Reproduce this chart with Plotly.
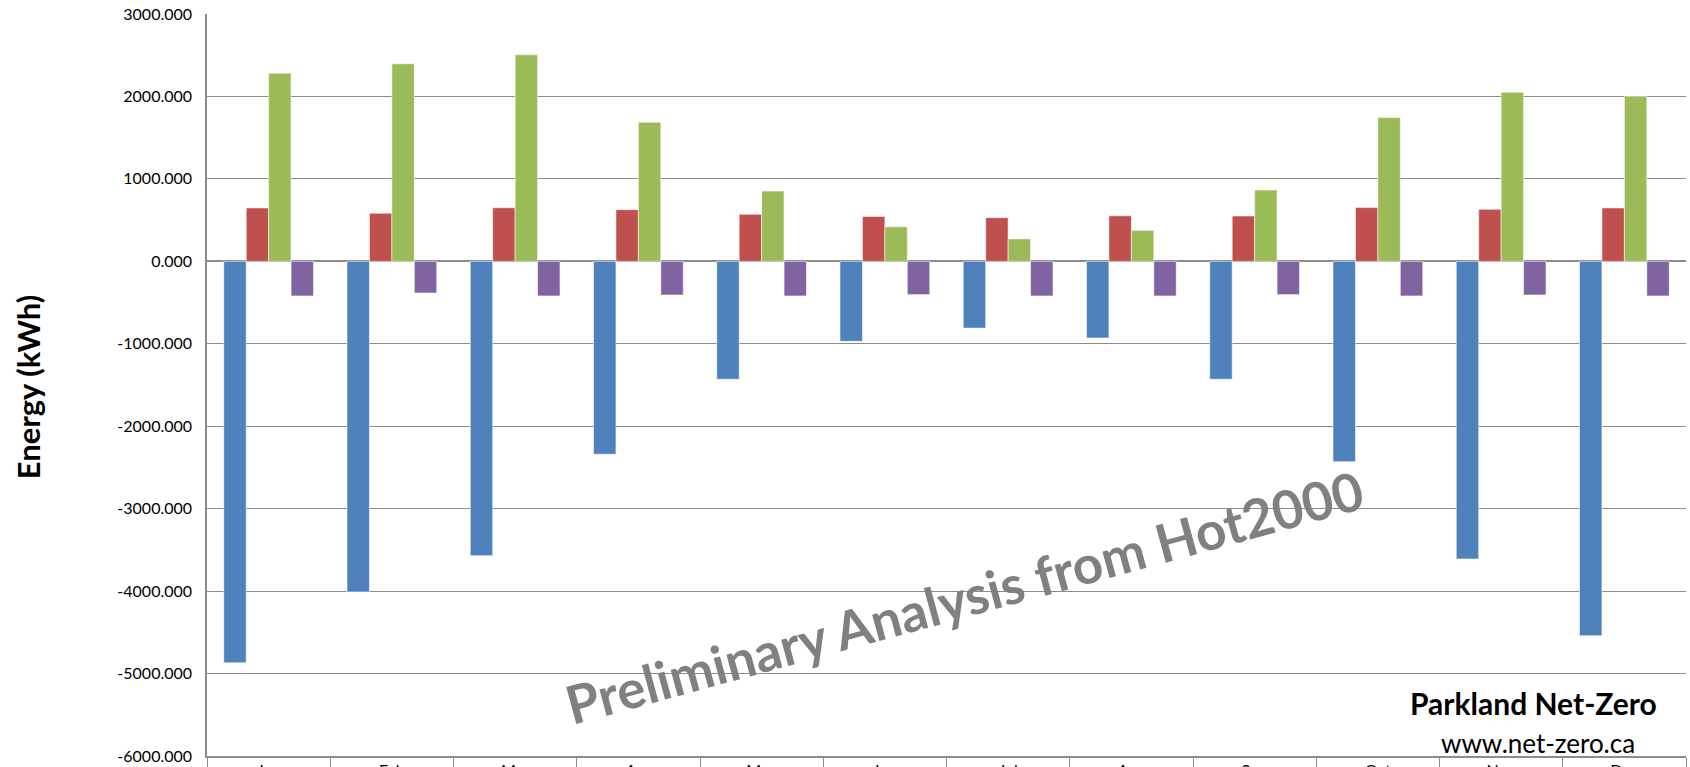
import plotly.graph_objects as go

categories = ["Jan", "Feb", "Mar", "Apr", "May", "Jun", "Jul", "Aug", "Sep", "Oct", "Nov", "Dec"]
series_names = ["Series1", "Series2", "Series3", "Series4"]
blue_vals = [-4870, -4010, -3570, -2340, -1430, -970, -810, -930, -1430, -2430, -3610, -4540]
red_vals = [648, 583, 650, 627, 570, 545, 530, 552, 550, 652, 631, 648]
green_vals = [2282, 2396, 2505, 1687, 852, 419, 272, 376, 865, 1744, 2051, 2003]
purple_vals = [-420, -384, -420, -408, -420, -404, -420, -420, -404, -420, -408, -420]
colors = ["#4F81BD", "#C0504D", "#9BBB59", "#8064A2"]
tick_vals = [3000, 2000, 1000, 0, -1000, -2000, -3000, -4000, -5000, -6000]
tick_text = ["3000.000", "2000.000", "1000.000", "0.000", "-1000.000", "-2000.000",
             "-3000.000", "-4000.000", "-5000.000", "-6000.000"]

fig = go.Figure()
for name, vals, col in zip(series_names, [blue_vals, red_vals, green_vals, purple_vals], colors):
    fig.add_trace(go.Bar(x=categories, y=vals, name=name, marker_color=col,
                         marker_line_color="rgba(255,255,255,0.55)", marker_line_width=1))

grid = "#8C8C8C"
fig.update_layout(
    width=1690, height=767,
    margin=dict(l=207, r=4, t=14, b=11, autoexpand=False),
    paper_bgcolor="white", plot_bgcolor="white",
    barmode="group", bargap=0.272, bargroupgap=0,
    showlegend=False,
    font=dict(family="Lato", color="black"),
)
fig.update_yaxes(range=[-6000, 3000], tickvals=tick_vals, ticktext=tick_text,
                 showgrid=True, gridcolor=grid, gridwidth=1,
                 zeroline=True, zerolinecolor=grid, zerolinewidth=1.5,
                 showline=True, linecolor=grid, linewidth=1.5,
                 ticks="", ticklabelstandoff=10, automargin=False,
                 tickfont=dict(family="Lato", size=16, color="black"))
fig.update_xaxes(showline=True, linecolor=grid, linewidth=1.5,
                 ticks="outside", tickson="boundaries", ticklen=14, tickcolor=grid, tickwidth=1,
                 ticklabelstandoff=-1, automargin=False,
                 tickfont=dict(family="Lato", size=16, color="black"))

fig.add_annotation(text="<b>Energy (kWh)</b>", xref="paper", yref="paper",
                   x=-0.121, y=0.497, xanchor="center", yanchor="middle", textangle=-90,
                   showarrow=False, font=dict(family="Lato", size=31, color="black"))
fig.add_annotation(text="<b>Preliminary Analysis from Hot2000</b>", xref="paper", yref="paper",
                   x=0.512, y=0.2156, xanchor="center", yanchor="middle", textangle=-15.3,
                   showarrow=False, font=dict(family="Lato", size=53, color="#808080"))
fig.add_annotation(text="<b>Parkland Net-Zero</b>", xref="paper", yref="paper",
                   x=0.9817, y=0.071, xanchor="right", yanchor="middle",
                   showarrow=False, font=dict(family="Lato", size=30, color="black"))
fig.add_annotation(text="www.net-zero.ca", xref="paper", yref="paper",
                   x=0.90, y=0.017, xanchor="center", yanchor="middle",
                   showarrow=False, font=dict(family="Lato", size=26, color="black"))

fig.write_html("out.html", config={"displayModeBar": False},
               post_script="document.body.style.margin='0';document.body.style.overflow='hidden';")
